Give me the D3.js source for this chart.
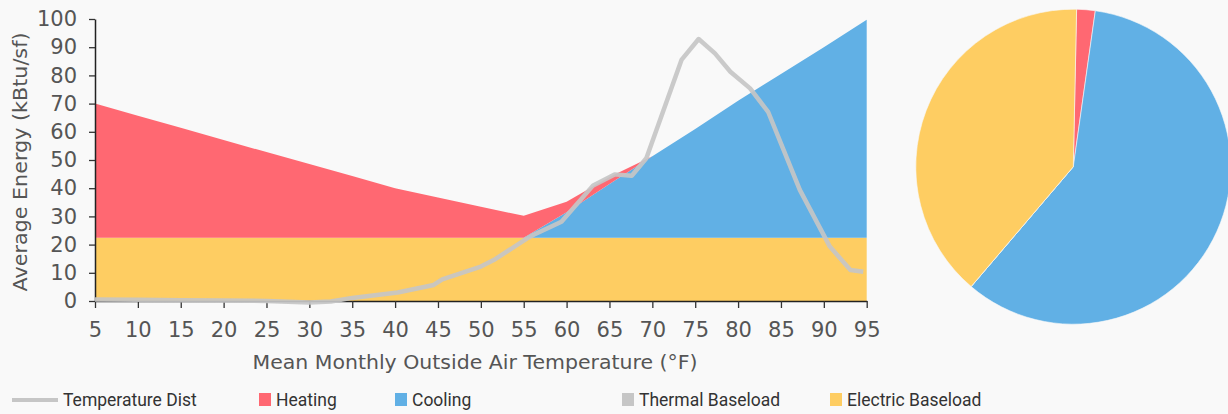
<!DOCTYPE html>
<html>
<head>
<meta charset="utf-8">
<script src="https://cdn.jsdelivr.net/npm/d3@7"></script>
<style>
    html, body { margin: 0; padding: 0; background: #f9f9f9; }
    svg { display: block; }
</style>
</head>
<body>
<svg id="chart" width="1228" height="414"></svg>
<script>
// --- Data ---
const temps = [5, 10, 15, 20, 25, 30, 35, 40, 45, 50, 55, 60, 65, 70, 75, 80, 85, 90, 95];
const electricBaseload = [22.4, 22.4, 22.4, 22.4, 22.4, 22.4, 22.4, 22.4, 22.4, 22.4, 22.4, 22.4, 22.4, 22.4, 22.4, 22.4, 22.4, 22.4, 22.4];
const thermalBaseload = [0, 0, 0, 0, 0, 0, 0, 0, 0, 0, 0, 0, 0, 0, 0, 0, 0, 0, 0];
const cooling = [0, 0, 0, 0, 0, 0, 0, 0, 0, 0, 0, 9.1, 19.1, 28.9, 38.6, 48.6, 58.1, 67.6, 77.3];
const heating = [47.6, 43.3, 39.0, 34.7, 30.4, 26.2, 21.9, 17.6, 14.3, 11.0, 7.8, 3.7, 2.5, 0, 0, 0, 0, 0, 0];

// temperature distribution line (its own x positions)
const distTemps = [5, 10, 15, 20, 25, 30, 32.5, 35, 40.3, 44.5, 45.5, 50, 51.5, 55.4, 56.1, 59.4, 63.1, 65.6, 67.6, 69.3, 73.4, 75.4, 77.3, 79.1, 81.4, 83.5, 87.2, 90.7, 93.1, 94.6];
const distValues = [0.5, 0.4, 0.3, 0.2, 0.0, -0.5, -0.2, 1.1, 3.0, 5.7, 7.7, 12.2, 14.5, 22.2, 23.4, 28.1, 41.0, 44.9, 44.4, 50.6, 85.5, 92.9, 87.8, 81.3, 75.4, 67.1, 39.4, 19.3, 11.0, 10.4];

// pie shares
const pieLabels = ["Heating", "Cooling", "Thermal Baseload", "Electric Baseload"];
const pieValues = [1.9, 59.0, 0, 39.1];

const xTickValues = [5, 10, 15, 20, 25, 30, 35, 40, 45, 50, 55, 60, 65, 70, 75, 80, 85, 90, 95];
const yTickValues = [0, 10, 20, 30, 40, 50, 60, 70, 80, 90, 100];

const legendLabels = ["Temperature Dist", "Heating", "Cooling", "Thermal Baseload", "Electric Baseload"];

// colours
const colors = {
    heating: "#ff6872",
    cooling: "#61b0e5",
    thermal: "#c6c6c6",
    electric: "#fecd62",
    dist: "#c6c6c6"
};

// --- Setup ---
const svg = d3.select("#chart");
const axisFont = "'DejaVu Sans', sans-serif";
const legendFont = "Roboto, sans-serif";

const x = d3.scaleLinear().domain([5, 95]).range([95, 866.7]);
const y = d3.scaleLinear().domain([0, 100]).range([301, 19]);

// --- Stacked areas ---
const table = temps.map((t, i) => ({
    t: t,
    electric: electricBaseload[i],
    thermal: thermalBaseload[i],
    cooling: cooling[i],
    heating: heating[i]
}));

const stack = d3.stack().keys(["electric", "thermal", "cooling", "heating"]);
const layers = stack(table);

const area = d3.area()
    .x(d => x(d.data.t))
    .y0(d => y(d[0]))
    .y1(d => y(d[1]));

svg.append("g")
    .selectAll("path")
    .data(layers)
    .join("path")
    .attr("d", area)
    .attr("fill", d => colors[d.key]);

// --- Axes ---
const xAxis = svg.append("g")
    .attr("transform", `translate(0,${y(0)})`)
    .call(d3.axisBottom(x).tickValues(xTickValues).tickSize(7).tickSizeOuter(0).tickPadding(14));

const yAxis = svg.append("g")
    .attr("transform", `translate(${x(5)},0)`)
    .call(d3.axisLeft(y).tickValues(yTickValues).tickSize(6).tickSizeOuter(0).tickPadding(12));

[xAxis, yAxis].forEach(g => {
    g.select(".domain").attr("stroke", "#222").attr("stroke-width", 1.5);
    g.selectAll(".tick line").attr("stroke", "#333").attr("stroke-width", 1.3);
    g.selectAll(".tick text")
        .attr("fill", "#555")
        .style("font-family", axisFont)
        .style("font-size", "21px");
});

// axis titles
svg.append("text")
    .attr("x", 475)
    .attr("y", 369)
    .attr("text-anchor", "middle")
    .attr("fill", "#555")
    .attr("textLength", 445)
    .attr("lengthAdjust", "spacingAndGlyphs")
    .style("font-family", axisFont)
    .style("font-size", "19px")
    .text("Mean Monthly Outside Air Temperature (°F)");

svg.append("text")
    .attr("transform", "translate(27,162) rotate(-90)")
    .attr("text-anchor", "middle")
    .attr("fill", "#555")
    .attr("textLength", 259)
    .attr("lengthAdjust", "spacingAndGlyphs")
    .style("font-family", axisFont)
    .style("font-size", "19px")
    .text("Average Energy (kBtu/sf)");

// --- Temperature distribution line ---
const line = d3.line()
    .x(d => x(d[0]))
    .y(d => y(d[1]));

svg.append("path")
    .datum(distTemps.map((t, i) => [t, distValues[i]]))
    .attr("d", line)
    .attr("fill", "none")
    .attr("stroke", colors.dist)
    .attr("stroke-opacity", 0.92)
    .attr("stroke-width", 4.5)
    .attr("stroke-linejoin", "round");

// --- Pie ---
const pieColors = [colors.heating, colors.cooling, colors.thermal, colors.electric];
const startOffset = 0.021;
const pie = d3.pie()
    .sort(null)
    .startAngle(startOffset)
    .endAngle(startOffset + 2 * Math.PI)
    .value(d => d);

const arc = d3.arc().innerRadius(0).outerRadius(157.5);

svg.append("g")
    .attr("transform", "translate(1073.3,166.7)")
    .selectAll("path")
    .data(pie(pieValues))
    .join("path")
    .attr("d", arc)
    .attr("fill", (d, i) => pieColors[i])
    .attr("stroke", "#f9f9f9")
    .attr("stroke-width", 0.6);

// --- Legend ---
const legendX = [12, 259, 395, 622, 830];
const legendY = 400;
const legendColors = [colors.dist, colors.heating, colors.cooling, colors.thermal, colors.electric];

const legend = svg.append("g");
legendLabels.forEach((label, i) => {
    const g = legend.append("g").attr("transform", `translate(${legendX[i]},${legendY})`);
    let textX;
    if (i === 0) {
        g.append("rect")
            .attr("x", 0).attr("y", -2)
            .attr("width", 46).attr("height", 4)
            .attr("fill", legendColors[i]);
        textX = 51;
    } else {
        g.append("rect")
            .attr("x", 0).attr("y", -7)
            .attr("width", 12).attr("height", 13)
            .attr("fill", legendColors[i]);
        textX = 17;
    }
    g.append("text")
        .attr("x", textX)
        .attr("y", 0)
        .attr("dy", "0.35em")
        .attr("fill", "#333")
        .style("font-family", legendFont)
        .style("font-size", "17.5px")
        .text(label);
});
</script>
</body>
</html>
